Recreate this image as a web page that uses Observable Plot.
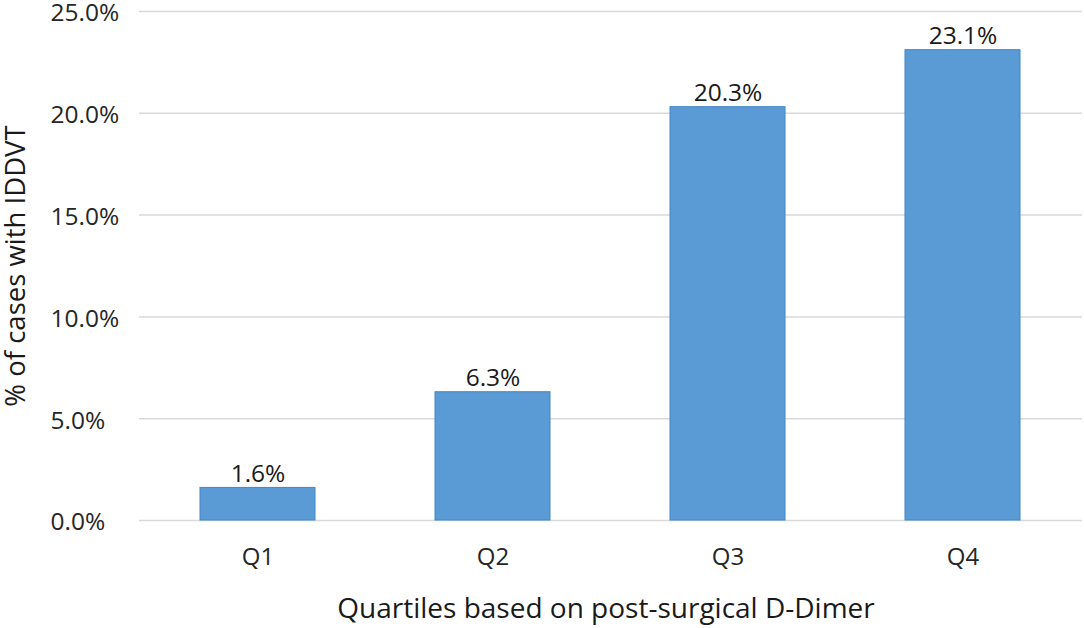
<!DOCTYPE html>
<html>
<head>
<meta charset="utf-8">
<script src="https://cdn.jsdelivr.net/npm/d3@7"></script>
<script src="https://cdn.jsdelivr.net/npm/@observablehq/plot@0.6"></script>
<style>
  body { margin: 0; background: #fff; }
  svg { font-family: "Open Sans", "Noto Sans", sans-serif; }
</style>
</head>
<body>
<div id="chart"></div>
<script>
const categories = ["Q1", "Q2", "Q3", "Q4"];
const values = [1.6, 6.3, 20.3, 23.1];
const yTicks = [0, 5, 10, 15, 20, 25];
const xTitle = "Quartiles based on post-surgical D-Dimer";
const yTitle = "% of cases with IDDVT";

const data = categories.map((c, i) => ({q: c, v: values[i]}));

const chart = Plot.plot({
  width: 1084,
  height: 628,
  marginTop: 11,
  marginBottom: 108,
  marginLeft: 139,
  marginRight: 2,
  style: {fontSize: "24px", color: "#262626", background: "#fff", overflow: "visible"},
  x: {domain: categories, paddingInner: 0.51, paddingOuter: 0.255, label: null},
  y: {domain: [0, 25], label: null},
  marks: [
    Plot.ruleY(yTicks, {stroke: "#d9d9d9", strokeWidth: 1.5}),
    Plot.barY(data, {x: "q", y: "v", fill: "#5b9bd5", stroke: "#3f86c9", strokeWidth: 1}),
    Plot.text(data, {x: "q", y: "v", text: d => d.v.toFixed(1) + "%", lineAnchor: "bottom", dy: -6, fontSize: 24.5, fill: "#1a1a1a"}),
    Plot.axisY(yTicks, {tickSize: 0, tickPadding: 89, textAnchor: "start", dy: 2, tickFormat: d => d.toFixed(1) + "%", fontSize: 24.5, fill: "#262626", label: null}),
    Plot.axisX({tickSize: 0, tickPadding: 27, fontSize: 24, fill: "#262626", label: null}),
    Plot.text([xTitle], {frameAnchor: "bottom", dy: 89, dx: -5, lineAnchor: "middle", textAnchor: "middle", fontSize: 28, fill: "#1a1a1a"}),
    Plot.text([yTitle], {frameAnchor: "left", dx: -123, rotate: -90, lineAnchor: "middle", textAnchor: "middle", fontSize: 27.5, fill: "#1a1a1a"})
  ]
});
document.getElementById("chart").appendChild(chart);
</script>
</body>
</html>
